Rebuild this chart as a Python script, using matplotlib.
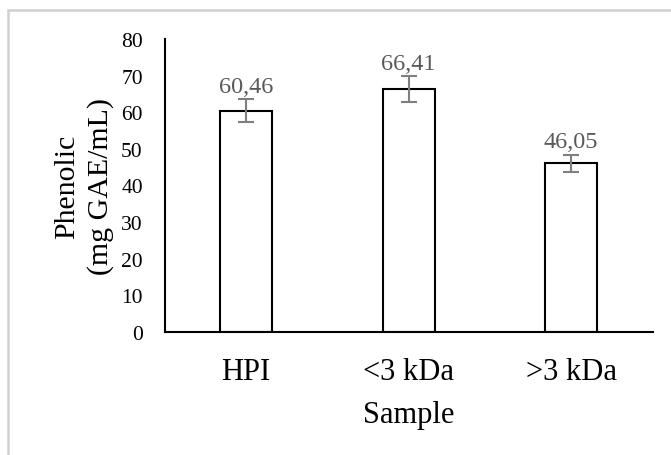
import matplotlib
matplotlib.use("Agg")
import matplotlib.pyplot as plt
from matplotlib.patches import Rectangle

categories = ["HPI", "<3 kDa", ">3 kDa"]
values = [60.46, 66.41, 46.05]
errors = [3.05, 3.5, 2.4]
value_labels = ["60,46", "66,41", "46,05"]
y_ticks = [0, 10, 20, 30, 40, 50, 60, 70, 80]

plt.rcParams['font.family'] = ['Liberation Serif', 'DejaVu Serif']

fig = plt.figure(figsize=(6.71, 4.56), dpi=100)
ax = fig.add_axes([165/671, 1-333/456, (652.5-165)/671, (333-40)/456])

x = list(range(len(categories)))
ax.bar(x, values, width=0.317, color="white", edgecolor="black", linewidth=1.5, zorder=2)
ax.errorbar(x, values, yerr=errors, fmt="none", ecolor="#7f7f7f", elinewidth=1.5,
            capsize=6, capthick=1.5, zorder=3)
for xi, v, e, lab in zip(x, values, errors, value_labels):
    ax.annotate(lab, (xi, v + e), xytext=(0, 1.5), textcoords="offset points",
                ha="center", va="bottom", fontsize=17.5, color="#595959", zorder=4)

ax.set_xlim(-0.5, 2.5)
ax.set_ylim(0, 80)
ax.set_yticks(y_ticks)
ax.set_xticks(x)
ax.set_xticklabels(categories, fontsize=22)
ax.tick_params(axis="y", length=0, pad=16, labelsize=15.5)
ax.tick_params(axis="x", length=0, pad=18)
for s in ["top", "right"]:
    ax.spines[s].set_visible(False)
for s in ["left", "bottom"]:
    ax.spines[s].set_linewidth(1.5)
    ax.spines[s].set_color("black")

ax.set_xlabel("Sample", fontsize=22, labelpad=10)
ax.set_ylabel("Phenolic\n(mg GAE/mL)", fontsize=21.5, labelpad=4, linespacing=1.35)
ax.yaxis.set_label_coords((114 - 165) / (652.5 - 165), 0.5)

border = Rectangle((8/671, -0.1), 2.0, (456-11)/456 + 0.1, transform=fig.transFigure,
                   fill=False, edgecolor="#d0d0d0", linewidth=1.8, zorder=10)
fig.add_artist(border)

fig.savefig("out.png", dpi=100)
